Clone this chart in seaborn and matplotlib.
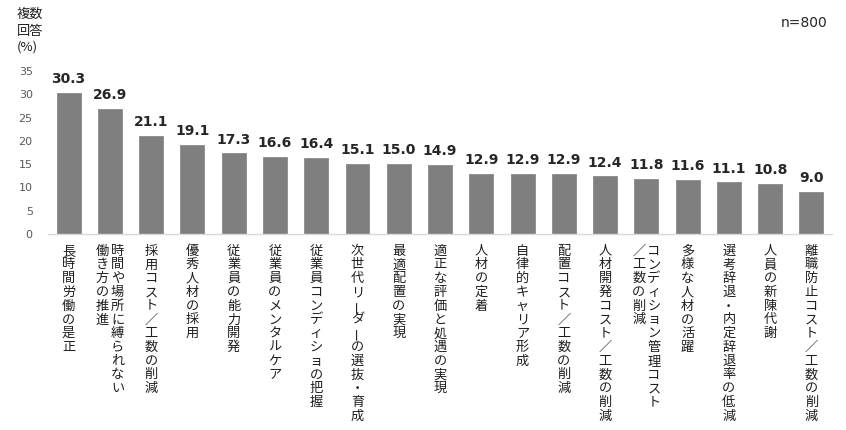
import numpy as np
import pandas as pd
import matplotlib
matplotlib.use("Agg")
import matplotlib.pyplot as plt
import matplotlib.transforms as mtransforms
import seaborn as sns

# each label is a list of vertical columns, read right to left
label_columns = [
    ["長時間労働の是正"],
    ["時間や場所に縛られない", "働き方の推進"],
    ["採用コスト／工数の削減"],
    ["優秀人材の採用"],
    ["従業員の能力開発"],
    ["従業員のメンタルケア"],
    ["従業員コンディショの把握"],
    ["次世代リーダーの選抜・育成"],
    ["最適配置の実現"],
    ["適正な評価と処遇の実現"],
    ["人材の定着"],
    ["自律的キャリア形成"],
    ["配置コスト／工数の削減"],
    ["人材開発コスト／工数の削減"],
    ["コンディション管理コスト", "／工数の削減"],
    ["多様な人材の活躍"],
    ["選考辞退・内定辞退率の低減"],
    ["人員の新陳代謝"],
    ["離職防止コスト／工数の削減"],
]
values = [30.3, 26.9, 21.1, 19.1, 17.3, 16.6, 16.4, 15.1, 15.0, 14.9,
          12.9, 12.9, 12.9, 12.4, 11.8, 11.6, 11.1, 10.8, 9.0]
yticks = [0, 5, 10, 15, 20, 25, 30, 35]
n_label = "n=800"
y_title = "複数\n回答\n(%)"

categories = ["".join(c) for c in label_columns]
df = pd.DataFrame({"item": categories, "pct": values})

sns.set_style("white")
plt.rcParams["font.family"] = ["Noto Sans CJK JP", "DejaVu Sans"]

fig = plt.figure(figsize=(8.46, 4.30), dpi=100)
ax = fig.add_axes([0.0567, 0.4558, 0.9268, 0.379])

sns.barplot(data=df, x="item", y="pct", order=categories, color="#7f7f7f",
            saturation=1, width=0.58, edgecolor="#8a8a8a", linewidth=0.6, ax=ax)

ax.set_xlim(-0.5, len(categories) - 0.5)
ax.set_ylim(0, 35)
ax.set_yticks(yticks)
ax.set_yticklabels([str(t) for t in yticks], color="#595959", fontsize=8,
                   family="DejaVu Sans")
ax.tick_params(axis="y", length=0, pad=11)
ax.set_xticks(range(len(categories)))
ax.set_xticklabels([""] * len(categories))
ax.tick_params(axis="x", length=0)
ax.set_xlabel("")
ax.set_ylabel("")
for s in ["top", "right", "left"]:
    ax.spines[s].set_visible(False)
ax.spines["bottom"].set_color("#d9d9d9")
ax.spines["bottom"].set_linewidth(1.0)

# value labels
for i, v in enumerate(values):
    ax.annotate(f"{v:.1f}", xy=(i, v), xytext=(0, 7), textcoords="offset points",
                ha="center", va="baseline", fontsize=10, fontweight="bold",
                color="#262626", family="DejaVu Sans")

# vertical (tategaki) category labels
trans = mtransforms.blended_transform_factory(ax.transData, ax.transAxes)
start_pt = 12.4
pitch_pt = 9.9
for i, cols in enumerate(label_columns):
    n = len(cols)
    offsets = [0.0] if n == 1 else [0.185, -0.185]
    for col, dx in zip(cols, offsets):
        for k, ch in enumerate(col):
            rot = 90 if ch == "ー" else 0
            ax.annotate(ch, xy=(i + dx, 0), xycoords=trans,
                        xytext=(0, -start_pt - k * pitch_pt), textcoords="offset points",
                        ha="center", va="center", rotation=rot, fontsize=9.5,
                        color="#1f1f1f", annotation_clip=False)

fig.text(17 / 846, 1 - 8 / 430, y_title, ha="left", va="top", fontsize=9.5,
         color="#1f1f1f", linespacing=1.35)
fig.text(827 / 846, 1 - 23 / 430, n_label, ha="right", va="center", fontsize=10,
         color="#262626", family="DejaVu Sans")

fig.savefig("out.png", dpi=100)
